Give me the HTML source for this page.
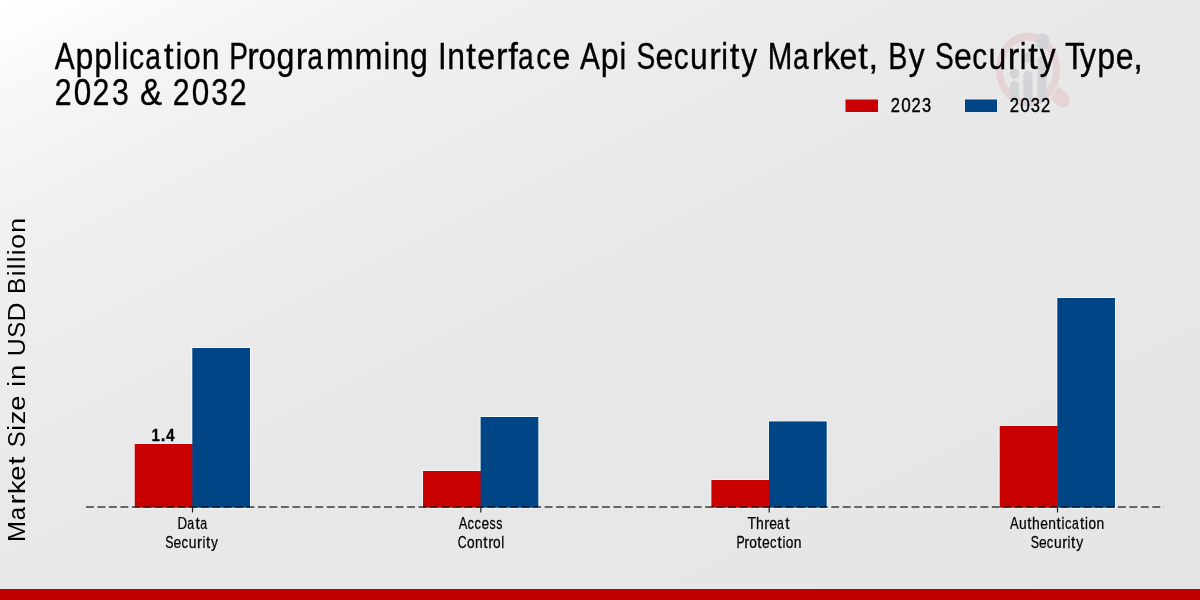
<!DOCTYPE html>
<html lang="en">
<head>
<meta charset="utf-8">
<title>Application Programming Interface Api Security Market, By Security Type, 2023 &amp; 2032</title>
<style>
  html, body { margin: 0; padding: 0; }
  body {
    width: 1200px; height: 600px; overflow: hidden;
    font-family: "Liberation Sans", sans-serif;
    background: #e7e7e7;
  }
  #chart {
    position: relative; width: 1200px; height: 600px; overflow: hidden;
    background: linear-gradient(to bottom right,
      #ffffff 0%, #fafafa 6%, #f4f4f4 12.5%, #eeeeee 25%, #eaeaea 37.5%, #e8e8e8 50%, #e7e7e7 65%, #e5e5e5 100%);
  }
  svg { position: absolute; left: 0; top: 0; display: block; will-change: transform; }
  text { font-family: "Liberation Sans", sans-serif; fill: #000; }
</style>
</head>
<body>
<div id="chart">
<svg width="1200" height="600" viewBox="0 0 1200 600">

  <!-- watermark logo -->
  <g id="wm" transform="translate(1028.0 69.6) scale(0.865 1)">
    <defs><clipPath id="outside"><path clip-rule="evenodd" d="M-80 -80H80V80H-80Z M38.4 0A38.4 38.4 0 1 0 -38.4 0A38.4 38.4 0 1 0 38.4 0Z"/></clipPath><clipPath id="lens"><circle cx="0" cy="0" r="37"/><rect x="0" y="-45" width="40" height="45"/></clipPath></defs>
    <line x1="24.76" y1="18.66" x2="40.25" y2="30.33" stroke="#e6d3d5" stroke-width="15.5" stroke-linecap="round" clip-path="url(#outside)"/>
    <circle cx="0" cy="0" r="33" fill="none" stroke="#e6d3d5" stroke-width="8"/>
    <g fill="#d3d4d8" clip-path="url(#lens)">
      <rect x="-21.02" y="11.00" width="10.6" height="29.00" rx="5.3"/>
      <circle cx="-15.72" cy="3.90" r="5.3"/>
      <rect x="-5.42" y="1.00" width="10.6" height="39.00" rx="5.3"/>
      <circle cx="-0.12" cy="-12.10" r="5.3"/>
      <rect x="10.88" y="-13.60" width="10.6" height="53.60" rx="5.3"/>
      <circle cx="16.88" cy="-28.10" r="8.0"/>
    </g>
  </g>

  <!-- legend swatches -->
  <rect x="845.5" y="99.5" width="32.5" height="12.5" fill="#c80000"/>
  <rect x="965" y="99.5" width="32" height="12.5" fill="#004586"/>

  <!-- bars -->
  <g id="halo" fill="#f4fbfb" opacity="0.85">
    <rect x="133.70" y="443" width="58.60" height="65.7"/>
    <rect x="191.30" y="347" width="59.70" height="161.7"/>
    <rect x="422.03" y="470" width="58.60" height="38.7"/>
    <rect x="479.63" y="416" width="59.70" height="92.7"/>
    <rect x="710.37" y="479" width="58.60" height="29.7"/>
    <rect x="767.97" y="420.4" width="59.70" height="88.3"/>
    <rect x="998.70" y="425" width="58.60" height="83.7"/>
    <rect x="1056.30" y="297" width="59.70" height="211.7"/>
  </g>
  <g id="bars">
    <rect x="134.70" y="444" width="58.2" height="63.7" fill="#c80000"/>
    <rect x="192.30" y="348" width="57.7" height="159.7" fill="#004586"/>
    <rect x="423.03" y="471" width="58.2" height="36.7" fill="#c80000"/>
    <rect x="480.63" y="417" width="57.7" height="90.7" fill="#004586"/>
    <rect x="711.37" y="480" width="58.2" height="27.7" fill="#c80000"/>
    <rect x="768.97" y="421.4" width="57.7" height="86.3" fill="#004586"/>
    <rect x="999.70" y="426" width="58.2" height="81.7" fill="#c80000"/>
    <rect x="1057.30" y="298" width="57.7" height="209.7" fill="#004586"/>
  </g>

  <!-- axis -->
  <line x1="86" y1="507" x2="1164" y2="507" stroke="#000" stroke-opacity="0.74" stroke-width="1.6" stroke-dasharray="7.9 3.566"/>
  <g stroke="#1a1a1a" stroke-width="1.2">
    <line x1="192.50" y1="507.7" x2="192.50" y2="512.4"/>
    <line x1="480.83" y1="507.7" x2="480.83" y2="512.4"/>
    <line x1="769.17" y1="507.7" x2="769.17" y2="512.4"/>
    <line x1="1057.50" y1="507.7" x2="1057.50" y2="512.4"/>
  </g>

  <!-- text: title words, legend labels, axis label, value label, tick labels -->
  <g id="t1" font-size="36.1" stroke="#000" stroke-width="0.35" stroke-linejoin="round" aria-label="Application Programming Interface Api Security Market, By Security Type,">
    <text transform="translate(54.79 68.50) scale(0.825 1)">A</text><text transform="translate(75.47 68.50) scale(0.891 1)">p</text><text transform="translate(94.24 68.50) scale(0.891 1)">p</text><text transform="translate(113.15 68.50) scale(0.837 1)">l</text><text transform="translate(121.38 68.50) scale(0.837 1)">i</text><text transform="translate(129.20 68.50) scale(0.822 1)">c</text><text transform="translate(145.27 68.50) scale(0.780 1)">a</text><text transform="translate(164.10 68.50) scale(0.960 1)">t</text><text transform="translate(175.57 68.50) scale(0.837 1)">i</text><text transform="translate(183.34 68.50) scale(0.871 1)">o</text><text transform="translate(201.69 68.50) scale(0.883 1)">n</text>
    <text transform="translate(229.32 68.50) scale(0.780 1)">P</text><text transform="translate(247.37 68.50) scale(0.960 1)">r</text><text transform="translate(258.40 68.50) scale(0.871 1)">o</text><text transform="translate(276.46 68.50) scale(0.890 1)">g</text><text transform="translate(295.74 68.50) scale(0.960 1)">r</text><text transform="translate(307.29 68.50) scale(0.780 1)">a</text><text transform="translate(325.68 68.50) scale(0.933 1)">m</text><text transform="translate(354.49 68.50) scale(0.933 1)">m</text><text transform="translate(383.61 68.50) scale(0.837 1)">i</text><text transform="translate(391.63 68.50) scale(0.883 1)">n</text><text transform="translate(410.09 68.50) scale(0.890 1)">g</text>
    <text transform="translate(438.00 68.50) scale(0.866 1)">I</text><text transform="translate(447.27 68.50) scale(0.883 1)">n</text><text transform="translate(466.34 68.50) scale(0.960 1)">t</text><text transform="translate(477.32 68.50) scale(0.885 1)">e</text><text transform="translate(496.03 68.50) scale(0.960 1)">r</text><text transform="translate(508.14 68.50) scale(0.960 1)">f</text><text transform="translate(517.99 68.50) scale(0.780 1)">a</text><text transform="translate(536.30 68.50) scale(0.822 1)">c</text><text transform="translate(552.47 68.50) scale(0.885 1)">e</text>
    <text transform="translate(579.96 68.50) scale(0.825 1)">A</text><text transform="translate(600.63 68.50) scale(0.891 1)">p</text><text transform="translate(619.55 68.50) scale(0.837 1)">i</text>
    <text transform="translate(636.56 68.50) scale(0.780 1)">S</text><text transform="translate(655.45 68.50) scale(0.885 1)">e</text><text transform="translate(673.74 68.50) scale(0.822 1)">c</text><text transform="translate(690.08 68.50) scale(0.883 1)">u</text><text transform="translate(709.17 68.50) scale(0.960 1)">r</text><text transform="translate(721.30 68.50) scale(0.837 1)">i</text><text transform="translate(729.64 68.50) scale(0.960 1)">t</text><text transform="translate(741.15 68.50) scale(0.880 1)">y</text>
    <text transform="translate(767.73 68.50) scale(0.817 1)">M</text><text transform="translate(792.94 68.50) scale(0.780 1)">a</text><text transform="translate(811.68 68.50) scale(0.960 1)">r</text><text transform="translate(823.50 68.50) scale(0.916 1)">k</text><text transform="translate(839.39 68.50) scale(0.885 1)">e</text><text transform="translate(858.21 68.50) scale(0.960 1)">t</text><text transform="translate(868.49 68.50) scale(0.960 1)">,</text>
    <text transform="translate(888.26 68.50) scale(0.796 1)">B</text><text transform="translate(908.80 68.50) scale(0.880 1)">y</text>
    <text transform="translate(935.06 68.50) scale(0.780 1)">S</text><text transform="translate(953.95 68.50) scale(0.885 1)">e</text><text transform="translate(972.24 68.50) scale(0.822 1)">c</text><text transform="translate(988.57 68.50) scale(0.883 1)">u</text><text transform="translate(1007.66 68.50) scale(0.960 1)">r</text><text transform="translate(1019.80 68.50) scale(0.837 1)">i</text><text transform="translate(1028.14 68.50) scale(0.960 1)">t</text><text transform="translate(1039.65 68.50) scale(0.880 1)">y</text>
    <text transform="translate(1064.93 68.50) scale(0.893 1)">T</text><text transform="translate(1080.01 68.50) scale(0.880 1)">y</text><text transform="translate(1097.32 68.50) scale(0.891 1)">p</text><text transform="translate(1115.75 68.50) scale(0.885 1)">e</text><text transform="translate(1133.25 68.50) scale(0.960 1)">,</text>
  </g>
  <g id="t2" font-size="36.1" stroke="#000" stroke-width="0.35" stroke-linejoin="round" aria-label="2023 &amp; 2032">
    <text transform="translate(54.63 104.60) scale(0.839 1)">2</text><text transform="translate(73.68 104.60) scale(0.871 1)">0</text><text transform="translate(92.57 104.60) scale(0.839 1)">2</text><text transform="translate(112.00 104.60) scale(0.836 1)">3</text>
    <text transform="translate(140.04 104.60) scale(0.920 1)">&amp;</text>
    <text transform="translate(172.72 104.60) scale(0.839 1)">2</text><text transform="translate(191.77 104.60) scale(0.871 1)">0</text><text transform="translate(211.13 104.60) scale(0.836 1)">3</text><text transform="translate(229.64 104.60) scale(0.839 1)">2</text>
  </g>
  <g id="l1" font-size="20.2" stroke="#000" stroke-width="0.4" stroke-linejoin="round" aria-label="2023">
    <text transform="translate(890.77 112.10) scale(0.816 1)">2</text><text transform="translate(901.13 112.10) scale(0.847 1)">0</text><text transform="translate(911.41 112.10) scale(0.816 1)">2</text><text transform="translate(921.99 112.10) scale(0.813 1)">3</text>
  </g>
  <g id="l2" font-size="20.2" stroke="#000" stroke-width="0.4" stroke-linejoin="round" aria-label="2032">
    <text transform="translate(1009.76 112.10) scale(0.823 1)">2</text><text transform="translate(1020.22 112.10) scale(0.854 1)">0</text><text transform="translate(1030.84 112.10) scale(0.820 1)">3</text><text transform="translate(1040.99 112.10) scale(0.823 1)">2</text>
  </g>
  <g id="v1" font-size="17.4" font-weight="bold" stroke="#000" stroke-width="0.3" stroke-linejoin="round" aria-label="1.4">
    <text transform="translate(151.55 440.50) scale(0.866 1)">1</text><text transform="translate(160.73 440.50) scale(0.960 1)">.</text><text transform="translate(166.01 440.50) scale(0.885 1)">4</text>
  </g>
  <g id="d1" font-size="15.8" stroke="#000" stroke-width="0.25" stroke-linejoin="round" aria-label="Data">
    <text transform="translate(177.41 529.10) scale(0.843 1)">D</text><text transform="translate(187.20 529.10) scale(0.780 1)">a</text><text transform="translate(195.41 529.10) scale(0.960 1)">t</text><text transform="translate(200.14 529.10) scale(0.780 1)">a</text>
  </g>
  <g id="d2" font-size="15.8" stroke="#000" stroke-width="0.25" stroke-linejoin="round" aria-label="Security">
    <text transform="translate(165.31 548.10) scale(0.780 1)">S</text><text transform="translate(173.58 548.10) scale(0.885 1)">e</text><text transform="translate(181.58 548.10) scale(0.822 1)">c</text><text transform="translate(188.73 548.10) scale(0.883 1)">u</text><text transform="translate(197.08 548.10) scale(0.960 1)">r</text><text transform="translate(202.39 548.10) scale(0.837 1)">i</text><text transform="translate(206.04 548.10) scale(0.960 1)">t</text><text transform="translate(211.08 548.10) scale(0.880 1)">y</text>
  </g>
  <g id="a1" font-size="15.8" stroke="#000" stroke-width="0.25" stroke-linejoin="round" aria-label="Access">
    <text transform="translate(458.87 529.10) scale(0.814 1)">A</text><text transform="translate(467.47 529.10) scale(0.811 1)">c</text><text transform="translate(474.50 529.10) scale(0.811 1)">c</text><text transform="translate(481.48 529.10) scale(0.873 1)">e</text><text transform="translate(489.55 529.10) scale(0.780 1)">s</text><text transform="translate(496.20 529.10) scale(0.780 1)">s</text>
  </g>
  <g id="a2" font-size="15.8" stroke="#000" stroke-width="0.25" stroke-linejoin="round" aria-label="Control">
    <text transform="translate(457.76 548.10) scale(0.780 1)">C</text><text transform="translate(466.92 548.10) scale(0.868 1)">o</text><text transform="translate(474.92 548.10) scale(0.880 1)">n</text><text transform="translate(483.23 548.10) scale(0.960 1)">t</text><text transform="translate(488.25 548.10) scale(0.960 1)">r</text><text transform="translate(493.07 548.10) scale(0.868 1)">o</text><text transform="translate(501.15 548.10) scale(0.835 1)">l</text>
  </g>
  <g id="h1" font-size="15.8" stroke="#000" stroke-width="0.25" stroke-linejoin="round" aria-label="Threat">
    <text transform="translate(747.58 529.10) scale(0.893 1)">T</text><text transform="translate(756.04 529.10) scale(0.888 1)">h</text><text transform="translate(764.37 529.10) scale(0.960 1)">r</text><text transform="translate(769.18 529.10) scale(0.884 1)">e</text><text transform="translate(777.09 529.10) scale(0.780 1)">a</text><text transform="translate(785.33 529.10) scale(0.960 1)">t</text>
  </g>
  <g id="h2" font-size="15.8" stroke="#000" stroke-width="0.25" stroke-linejoin="round" aria-label="Protection">
    <text transform="translate(736.45 548.10) scale(0.780 1)">P</text><text transform="translate(744.34 548.10) scale(0.960 1)">r</text><text transform="translate(749.16 548.10) scale(0.869 1)">o</text><text transform="translate(757.31 548.10) scale(0.960 1)">t</text><text transform="translate(762.12 548.10) scale(0.883 1)">e</text><text transform="translate(770.11 548.10) scale(0.821 1)">c</text><text transform="translate(777.43 548.10) scale(0.960 1)">t</text><text transform="translate(782.45 548.10) scale(0.836 1)">i</text><text transform="translate(785.84 548.10) scale(0.869 1)">o</text><text transform="translate(793.86 548.10) scale(0.882 1)">n</text>
  </g>
  <g id="u1" font-size="15.8" stroke="#000" stroke-width="0.25" stroke-linejoin="round" aria-label="Authentication">
    <text transform="translate(1009.97 529.10) scale(0.821 1)">A</text><text transform="translate(1018.90 529.10) scale(0.878 1)">u</text><text transform="translate(1027.24 529.10) scale(0.960 1)">t</text><text transform="translate(1032.11 529.10) scale(0.884 1)">h</text><text transform="translate(1040.19 529.10) scale(0.880 1)">e</text><text transform="translate(1048.24 529.10) scale(0.878 1)">n</text><text transform="translate(1056.52 529.10) scale(0.960 1)">t</text><text transform="translate(1061.53 529.10) scale(0.833 1)">i</text><text transform="translate(1064.93 529.10) scale(0.817 1)">c</text><text transform="translate(1071.91 529.10) scale(0.780 1)">a</text><text transform="translate(1080.11 529.10) scale(0.960 1)">t</text><text transform="translate(1085.12 529.10) scale(0.833 1)">i</text><text transform="translate(1088.50 529.10) scale(0.866 1)">o</text><text transform="translate(1096.48 529.10) scale(0.878 1)">n</text>
  </g>
  <g id="u2" font-size="15.8" stroke="#000" stroke-width="0.25" stroke-linejoin="round" aria-label="Security">
    <text transform="translate(1030.69 548.10) scale(0.780 1)">S</text><text transform="translate(1038.92 548.10) scale(0.878 1)">e</text><text transform="translate(1046.87 548.10) scale(0.815 1)">c</text><text transform="translate(1053.96 548.10) scale(0.876 1)">u</text><text transform="translate(1062.22 548.10) scale(0.960 1)">r</text><text transform="translate(1067.51 548.10) scale(0.831 1)">i</text><text transform="translate(1071.12 548.10) scale(0.960 1)">t</text><text transform="translate(1076.13 548.10) scale(0.873 1)">y</text>
  </g>
  <g id="yl" font-size="23.9" aria-label="Market Size in USD Billion">
    <text transform="translate(25.10 541.95) rotate(-90) scale(1.055 1)">M</text><text transform="translate(25.10 520.34) rotate(-90) scale(1.000 1)">a</text><text transform="translate(25.10 504.43) rotate(-90) scale(1.250 1)">r</text><text transform="translate(25.10 494.27) rotate(-90) scale(1.183 1)">k</text><text transform="translate(25.10 480.69) rotate(-90) scale(1.142 1)">e</text><text transform="translate(25.10 464.64) rotate(-90) scale(1.250 1)">t</text>
    <text transform="translate(25.10 447.23) rotate(-90) scale(1.000 1)">S</text><text transform="translate(25.10 430.72) rotate(-90) scale(1.081 1)">i</text><text transform="translate(25.10 424.36) rotate(-90) scale(1.133 1)">z</text><text transform="translate(25.10 410.85) rotate(-90) scale(1.142 1)">e</text>
    <text transform="translate(25.10 386.84) rotate(-90) scale(1.081 1)">i</text><text transform="translate(25.10 379.98) rotate(-90) scale(1.140 1)">n</text>
    <text transform="translate(25.10 356.13) rotate(-90) scale(1.040 1)">U</text><text transform="translate(25.10 337.72) rotate(-90) scale(1.000 1)">S</text><text transform="translate(25.10 321.53) rotate(-90) scale(1.094 1)">D</text>
    <text transform="translate(25.10 293.89) rotate(-90) scale(1.028 1)">B</text><text transform="translate(25.10 276.36) rotate(-90) scale(1.081 1)">i</text><text transform="translate(25.10 269.35) rotate(-90) scale(1.081 1)">l</text><text transform="translate(25.10 262.33) rotate(-90) scale(1.081 1)">l</text><text transform="translate(25.10 255.29) rotate(-90) scale(1.081 1)">i</text><text transform="translate(25.10 248.66) rotate(-90) scale(1.124 1)">o</text><text transform="translate(25.10 232.97) rotate(-90) scale(1.140 1)">n</text>
  </g>

  <!-- bottom strip -->
  <rect x="0" y="589" width="1200" height="11" fill="#c00000"/>
</svg>
</div>
</body>
</html>
